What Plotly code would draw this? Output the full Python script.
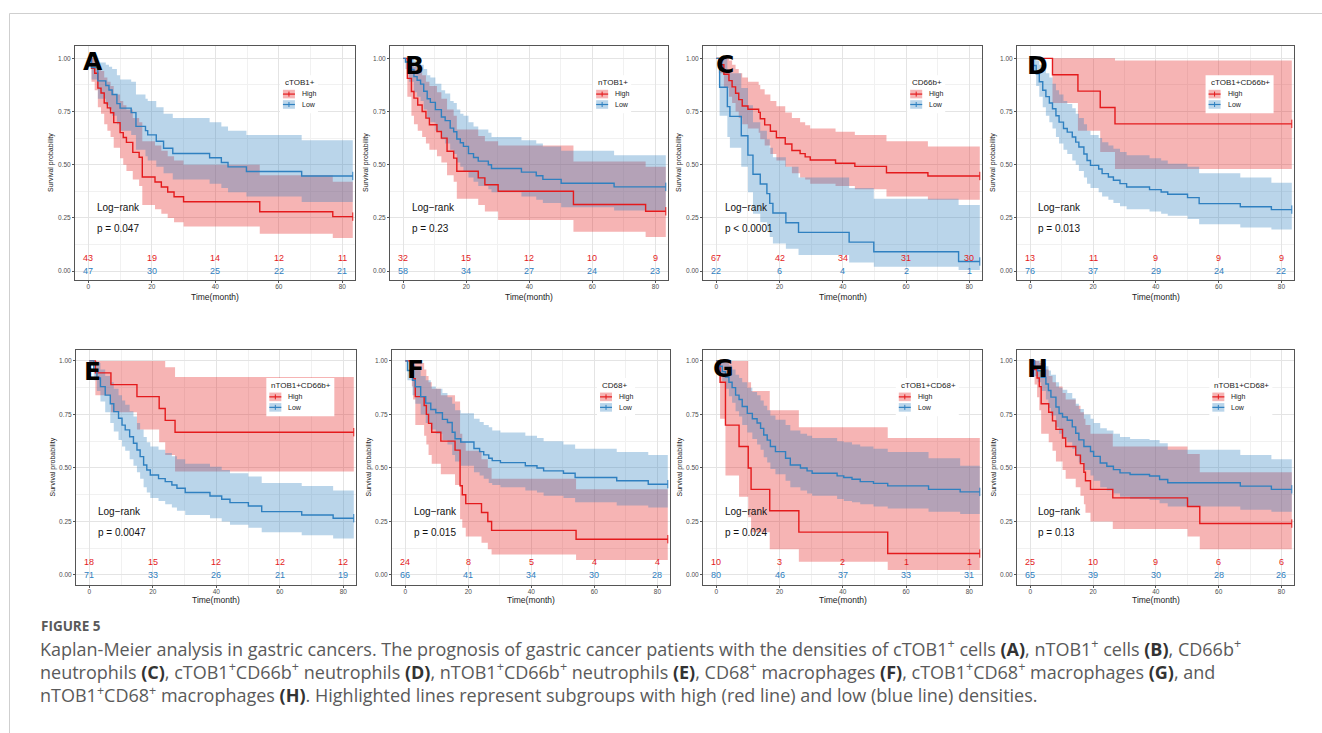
import plotly.graph_objects as go

W, H = 1322, 733

# ------------------------------------------------------------------ data
LETTERS = ["A", "B", "C", "D", "E", "F", "G", "H"]
LEGEND_TITLES = ["cTOB1+", "nTOB1+", "CD66b+", "cTOB1+CD66b+",
                 "nTOB1+CD66b+", "CD68+", "cTOB1+CD68+", "nTOB1+CD68+"]
P_TEXT = ["p = 0.047", "p = 0.23", "p < 0.0001", "p = 0.013",
          "p = 0.0047", "p = 0.015", "p = 0.024", "p = 0.13"]
GROUPS = ["High", "Low"]
RISK_TIMES = [0, 20, 40, 60, 80]
RISK_HIGH = [[43, 19, 14, 12, 11], [32, 15, 12, 10, 9], [67, 42, 34, 31, 30], [13, 11, 9, 9, 9],
             [18, 15, 12, 12, 12], [24, 8, 5, 4, 4], [10, 3, 2, 1, 1], [25, 10, 9, 6, 6]]
RISK_LOW = [[47, 30, 25, 22, 21], [58, 34, 27, 24, 23], [22, 6, 4, 2, 1], [76, 37, 29, 24, 22],
            [71, 33, 26, 21, 19], [66, 41, 34, 30, 28], [80, 46, 37, 33, 31], [65, 39, 30, 28, 26]]
END_T = 83.3
X_TICKS = [0, 20, 40, 60, 80]
Y_TICKS = [0, 0.25, 0.5, 0.75, 1.0]

# Panel A
A_HIGH_T = [0, 1, 2, 3, 4, 5, 6, 7, 8, 10, 11, 12, 14, 16, 17, 21, 23, 25, 27, 30, 54, 77]
A_HIGH_S = [1.0, 0.953, 0.93, 0.86, 0.837, 0.79, 0.767, 0.744, 0.698, 0.651, 0.628, 0.605, 0.558, 0.535, 0.442, 0.419, 0.395, 0.372, 0.349, 0.326, 0.279, 0.256]
A_HIGH_HI = [1.0, 1.0, 0.99, 0.96, 0.94, 0.91, 0.89, 0.87, 0.83, 0.80, 0.78, 0.76, 0.72, 0.70, 0.61, 0.59, 0.565, 0.54, 0.52, 0.50, 0.45, 0.42]
A_HIGH_LO = [1.0, 0.89, 0.85, 0.77, 0.74, 0.69, 0.66, 0.63, 0.58, 0.53, 0.50, 0.47, 0.43, 0.40, 0.31, 0.29, 0.27, 0.25, 0.23, 0.21, 0.175, 0.155]
A_LOW_T = [0, 1, 3, 5.5, 6.5, 7.5, 9, 10, 13.5, 15, 18, 18.7, 21.4, 23.7, 26.6, 38.2, 41.9, 44, 49.8, 67.2]
A_LOW_S = [1.0, 0.957, 0.894, 0.872, 0.851, 0.83, 0.787, 0.766, 0.745, 0.68, 0.66, 0.64, 0.61, 0.577, 0.553, 0.533, 0.51, 0.49, 0.468, 0.447]
A_LOW_HI = [1.0, 1.0, 0.98, 0.97, 0.96, 0.95, 0.92, 0.90, 0.89, 0.83, 0.81, 0.80, 0.77, 0.74, 0.72, 0.70, 0.68, 0.66, 0.64, 0.615]
A_LOW_LO = [1.0, 0.90, 0.81, 0.78, 0.76, 0.73, 0.69, 0.66, 0.64, 0.57, 0.54, 0.52, 0.49, 0.46, 0.43, 0.41, 0.39, 0.37, 0.35, 0.325]

# Panel B
B_HIGH_T = [0, 1.3, 2.6, 3.4, 4.6, 6.0, 7.2, 8.3, 10.7, 12.1, 13.9, 16.0, 17.0, 23.8, 25.9, 30.1, 54.0, 76.9]
B_HIGH_S = [1.0, 0.906, 0.844, 0.813, 0.781, 0.75, 0.719, 0.688, 0.656, 0.625, 0.563, 0.531, 0.469, 0.438, 0.406, 0.375, 0.313, 0.281]
B_HIGH_HI = [1.0, 1.0, 0.98, 0.96, 0.94, 0.92, 0.89, 0.87, 0.84, 0.81, 0.76, 0.73, 0.665, 0.635, 0.61, 0.59, 0.515, 0.49]
B_HIGH_LO = [1.0, 0.82, 0.73, 0.69, 0.66, 0.63, 0.60, 0.57, 0.54, 0.51, 0.45, 0.42, 0.34, 0.31, 0.28, 0.24, 0.185, 0.16]
B_LOW_T = [0, 0.7, 1.8, 3.4, 4.4, 5.5, 6.5, 7.6, 8.6, 10.2, 12.1, 13.3, 14.9, 16, 17, 18.1, 19.1, 20.7, 22.3, 23.8, 27, 28, 37.5, 42.2, 44.3, 50.1, 66.9]
B_LOW_S = [1.0, 0.983, 0.948, 0.914, 0.897, 0.879, 0.845, 0.81, 0.793, 0.759, 0.724, 0.707, 0.672, 0.655, 0.621, 0.603, 0.586, 0.552, 0.534, 0.517, 0.5, 0.482, 0.465, 0.448, 0.431, 0.413, 0.396]
B_LOW_HI = [1.0, 1.0, 1.0, 0.99, 0.98, 0.97, 0.95, 0.92, 0.91, 0.88, 0.85, 0.835, 0.80, 0.79, 0.76, 0.74, 0.73, 0.70, 0.68, 0.665, 0.65, 0.63, 0.615, 0.60, 0.585, 0.565, 0.545]
B_LOW_LO = [1.0, 0.95, 0.89, 0.84, 0.82, 0.80, 0.76, 0.72, 0.70, 0.66, 0.62, 0.60, 0.57, 0.55, 0.51, 0.49, 0.47, 0.44, 0.42, 0.40, 0.385, 0.37, 0.35, 0.335, 0.32, 0.30, 0.285]

# Panel C
C_HIGH_T = [0, 0.8, 2.4, 4, 5, 6.1, 7.1, 8.2, 10, 13.4, 13.9, 15.3, 17.1, 19, 21.8, 23.9, 26.5, 28.1, 29.7, 37.7, 43.8, 53.8, 66.9]
C_HIGH_S = [1.0, 0.97, 0.925, 0.895, 0.866, 0.836, 0.806, 0.776, 0.761, 0.746, 0.716, 0.687, 0.657, 0.627, 0.597, 0.567, 0.552, 0.537, 0.522, 0.507, 0.492, 0.462, 0.447]
C_HIGH_HI = [1.0, 1.0, 1.0, 0.99, 0.97, 0.95, 0.93, 0.91, 0.89, 0.875, 0.855, 0.83, 0.80, 0.775, 0.745, 0.72, 0.70, 0.685, 0.67, 0.655, 0.64, 0.61, 0.585]
C_HIGH_LO = [1.0, 0.93, 0.86, 0.82, 0.79, 0.75, 0.72, 0.69, 0.67, 0.65, 0.62, 0.59, 0.55, 0.52, 0.49, 0.46, 0.44, 0.43, 0.41, 0.40, 0.385, 0.35, 0.335]
C_LOW_T = [0, 1.05, 3.5, 4.3, 7.9, 10, 11.6, 13.9, 16, 16.9, 17.9, 22, 26, 42, 49.8, 76.6]
C_LOW_S = [1.0, 0.864, 0.773, 0.727, 0.636, 0.545, 0.455, 0.409, 0.364, 0.318, 0.273, 0.227, 0.182, 0.136, 0.091, 0.045]
C_LOW_HI = [1.0, 1.0, 0.95, 0.93, 0.86, 0.78, 0.70, 0.66, 0.62, 0.58, 0.535, 0.49, 0.44, 0.39, 0.34, 0.31]
C_LOW_LO = [1.0, 0.73, 0.63, 0.58, 0.49, 0.37, 0.27, 0.23, 0.19, 0.16, 0.13, 0.105, 0.075, 0.04, 0.02, 0.005]

# Panel D
D_HIGH_T = [0, 7.1, 15.2, 22.3, 27]
D_HIGH_S = [1.0, 0.923, 0.846, 0.769, 0.692]
D_HIGH_HI = [1.0, 1.0, 1.0, 1.0, 0.99]
D_HIGH_LO = [1.0, 0.79, 0.66, 0.56, 0.48]
D_LOW_T = [0, 0.84, 1.9, 2.9, 4, 5, 6.1, 7.1, 8.2, 9.2, 10.6, 11.8, 13.4, 14.5, 15.5, 17.1, 18.1, 19.2, 21.8, 22.9, 24.9, 26.5, 28.6, 30.7, 38, 41.7, 43.8, 50.1, 53.8, 66.9, 76.8]
D_LOW_S = [1.0, 0.966, 0.927, 0.89, 0.85, 0.82, 0.79, 0.763, 0.73, 0.70, 0.67, 0.653, 0.63, 0.606, 0.583, 0.55, 0.52, 0.497, 0.48, 0.458, 0.442, 0.427, 0.411, 0.395, 0.383, 0.372, 0.361, 0.345, 0.317, 0.302, 0.289]
D_LOW_HI = [1.0, 1.0, 0.99, 0.97, 0.95, 0.93, 0.91, 0.88, 0.85, 0.83, 0.80, 0.785, 0.765, 0.74, 0.72, 0.69, 0.66, 0.64, 0.625, 0.605, 0.59, 0.575, 0.56, 0.545, 0.53, 0.52, 0.505, 0.49, 0.46, 0.44, 0.415]
D_LOW_LO = [1.0, 0.93, 0.87, 0.82, 0.77, 0.73, 0.70, 0.67, 0.63, 0.60, 0.57, 0.55, 0.52, 0.50, 0.47, 0.44, 0.41, 0.39, 0.37, 0.35, 0.335, 0.32, 0.305, 0.29, 0.28, 0.27, 0.26, 0.245, 0.22, 0.205, 0.195]

# Panel E
E_HIGH_T = [0, 1.9, 6.8, 15, 22, 23.9, 27]
E_HIGH_S = [1.0, 0.944, 0.889, 0.833, 0.778, 0.722, 0.667]
E_HIGH_HI = [1.0, 1.0, 1.0, 1.0, 1.0, 0.97, 0.925]
E_HIGH_LO = [1.0, 0.84, 0.76, 0.68, 0.62, 0.56, 0.483]
E_LOW_T = [0, 1.4, 2.4, 3.5, 5, 6.6, 7.7, 9.2, 10.3, 11.3, 12.7, 13.9, 15, 16, 17.1, 18.1, 19.2, 21.8, 23.9, 26, 27.6, 30.2, 38, 41.7, 44.3, 50.1, 54.3, 66.9, 76.8]
E_LOW_S = [1.0, 0.958, 0.92, 0.88, 0.84, 0.80, 0.763, 0.732, 0.70, 0.678, 0.646, 0.615, 0.584, 0.553, 0.514, 0.49, 0.467, 0.45, 0.436, 0.42, 0.405, 0.385, 0.369, 0.354, 0.338, 0.322, 0.296, 0.28, 0.265]
E_LOW_HI = [1.0, 1.0, 0.99, 0.96, 0.93, 0.90, 0.87, 0.84, 0.815, 0.795, 0.765, 0.74, 0.71, 0.68, 0.645, 0.62, 0.60, 0.585, 0.57, 0.555, 0.54, 0.52, 0.505, 0.49, 0.475, 0.46, 0.43, 0.415, 0.395]
E_LOW_LO = [1.0, 0.91, 0.86, 0.81, 0.76, 0.71, 0.67, 0.63, 0.60, 0.58, 0.54, 0.51, 0.48, 0.45, 0.41, 0.385, 0.36, 0.345, 0.33, 0.315, 0.30, 0.28, 0.265, 0.25, 0.235, 0.22, 0.20, 0.185, 0.17]

# Panel F
F_HIGH_T = [0, 2.1, 2.5, 3.2, 6, 6.7, 7.4, 8.4, 11.3, 15.8, 17.4, 18.1, 19.2, 24.2, 26.2, 27.4, 54.2]
F_HIGH_S = [1.0, 0.958, 0.917, 0.833, 0.792, 0.75, 0.708, 0.667, 0.625, 0.583, 0.417, 0.375, 0.333, 0.292, 0.25, 0.208, 0.167]
F_HIGH_HI = [1.0, 1.0, 1.0, 0.99, 0.96, 0.93, 0.90, 0.87, 0.84, 0.81, 0.66, 0.62, 0.58, 0.54, 0.50, 0.45, 0.40]
F_HIGH_LO = [1.0, 0.88, 0.82, 0.70, 0.65, 0.61, 0.56, 0.52, 0.47, 0.42, 0.26, 0.22, 0.18, 0.15, 0.12, 0.095, 0.07]
F_LOW_T = [0, 0.7, 2.3, 3.2, 4.9, 6.5, 8.1, 9.7, 11.8, 13.4, 14.9, 15.8, 17.6, 21.8, 23.6, 24.9, 26.5, 27.6, 30.2, 38.1, 41.8, 43.9, 50.2, 53.9, 67.1, 77.1]
F_LOW_S = [1.0, 0.955, 0.91, 0.879, 0.833, 0.803, 0.773, 0.758, 0.727, 0.712, 0.667, 0.636, 0.621, 0.591, 0.576, 0.561, 0.545, 0.534, 0.525, 0.51, 0.50, 0.486, 0.475, 0.455, 0.44, 0.424]
F_LOW_HI = [1.0, 1.0, 0.98, 0.96, 0.93, 0.91, 0.88, 0.87, 0.85, 0.83, 0.80, 0.77, 0.755, 0.73, 0.715, 0.70, 0.69, 0.675, 0.665, 0.65, 0.64, 0.625, 0.61, 0.59, 0.575, 0.56]
F_LOW_LO = [1.0, 0.91, 0.84, 0.80, 0.75, 0.71, 0.68, 0.66, 0.63, 0.61, 0.56, 0.53, 0.51, 0.48, 0.465, 0.45, 0.43, 0.42, 0.41, 0.395, 0.385, 0.37, 0.36, 0.34, 0.325, 0.315]

# Panel G
G_HIGH_T = [0, 1.2, 2.9, 7.2, 10.1, 11, 16.9, 26.1, 54.2]
G_HIGH_S = [1.0, 0.9, 0.7, 0.6, 0.5, 0.4, 0.3, 0.2, 0.1]
G_HIGH_HI = [1.0, 1.0, 1.0, 1.0, 0.9, 0.86, 0.77, 0.69, 0.64]
G_HIGH_LO = [1.0, 0.73, 0.465, 0.365, 0.27, 0.2, 0.12, 0.062, 0.023]
G_LOW_T = [0, 0.8, 1.9, 2.9, 4, 5, 6.1, 7.2, 8.2, 9.8, 11.4, 12.9, 14, 15, 16.1, 17.1, 18.7, 21.9, 23.4, 26.6, 28.7, 30.3, 38.2, 40.3, 42.9, 45.5, 49.7, 54.2, 67.1, 77.1]
G_LOW_S = [1.0, 0.975, 0.95, 0.925, 0.9, 0.875, 0.84, 0.82, 0.787, 0.755, 0.73, 0.71, 0.685, 0.654, 0.63, 0.60, 0.576, 0.545, 0.514, 0.50, 0.486, 0.475, 0.463, 0.455, 0.447, 0.436, 0.428, 0.416, 0.40, 0.388]
G_LOW_HI = [1.0, 1.0, 1.0, 0.99, 0.98, 0.96, 0.935, 0.92, 0.90, 0.875, 0.855, 0.84, 0.815, 0.79, 0.77, 0.745, 0.725, 0.70, 0.675, 0.66, 0.65, 0.64, 0.625, 0.62, 0.61, 0.60, 0.59, 0.575, 0.545, 0.51]
G_LOW_LO = [1.0, 0.94, 0.905, 0.87, 0.835, 0.805, 0.765, 0.74, 0.70, 0.665, 0.635, 0.61, 0.585, 0.55, 0.525, 0.495, 0.47, 0.44, 0.41, 0.395, 0.38, 0.37, 0.355, 0.345, 0.34, 0.33, 0.32, 0.31, 0.295, 0.285]

# Panel H
H_HIGH_T = [0, 1.4, 2.2, 2.9, 3.5, 5.9, 7.1, 8.2, 10.3, 11.3, 14.5, 16, 17.1, 17.6, 19.2, 26.3, 50.1, 54]
H_HIGH_S = [1.0, 0.96, 0.92, 0.88, 0.80, 0.76, 0.72, 0.68, 0.64, 0.60, 0.56, 0.52, 0.48, 0.44, 0.40, 0.36, 0.32, 0.24]
H_HIGH_HI = [1.0, 1.0, 1.0, 0.99, 0.96, 0.93, 0.90, 0.88, 0.85, 0.82, 0.79, 0.76, 0.73, 0.70, 0.66, 0.60, 0.565, 0.48]
H_HIGH_LO = [1.0, 0.89, 0.83, 0.77, 0.66, 0.62, 0.58, 0.53, 0.49, 0.45, 0.41, 0.37, 0.33, 0.29, 0.25, 0.215, 0.18, 0.12]
H_LOW_T = [0, 1.4, 2.4, 3.5, 5, 5.8, 6.6, 8.2, 9.2, 10.3, 11.8, 13.4, 14.5, 15.5, 17.1, 19.2, 20.2, 22.3, 24.4, 26.5, 28.6, 31.8, 38, 41.2, 43.8, 66.9, 76.8]
H_LOW_S = [1.0, 0.969, 0.954, 0.923, 0.892, 0.862, 0.831, 0.785, 0.754, 0.738, 0.723, 0.692, 0.662, 0.631, 0.6, 0.577, 0.554, 0.523, 0.508, 0.492, 0.477, 0.469, 0.462, 0.446, 0.431, 0.415, 0.4]
H_LOW_HI = [1.0, 1.0, 1.0, 0.99, 0.975, 0.955, 0.935, 0.90, 0.875, 0.865, 0.85, 0.825, 0.80, 0.775, 0.75, 0.73, 0.71, 0.685, 0.675, 0.66, 0.645, 0.635, 0.63, 0.615, 0.585, 0.56, 0.54]
H_LOW_LO = [1.0, 0.93, 0.90, 0.86, 0.82, 0.78, 0.745, 0.69, 0.66, 0.64, 0.62, 0.59, 0.555, 0.525, 0.49, 0.465, 0.44, 0.41, 0.395, 0.38, 0.365, 0.355, 0.35, 0.335, 0.32, 0.305, 0.295]

CURVES = {
    "A": [(A_HIGH_T, A_HIGH_S, A_HIGH_LO, A_HIGH_HI), (A_LOW_T, A_LOW_S, A_LOW_LO, A_LOW_HI)],
    "B": [(B_HIGH_T, B_HIGH_S, B_HIGH_LO, B_HIGH_HI), (B_LOW_T, B_LOW_S, B_LOW_LO, B_LOW_HI)],
    "C": [(C_HIGH_T, C_HIGH_S, C_HIGH_LO, C_HIGH_HI), (C_LOW_T, C_LOW_S, C_LOW_LO, C_LOW_HI)],
    "D": [(D_HIGH_T, D_HIGH_S, D_HIGH_LO, D_HIGH_HI), (D_LOW_T, D_LOW_S, D_LOW_LO, D_LOW_HI)],
    "E": [(E_HIGH_T, E_HIGH_S, E_HIGH_LO, E_HIGH_HI), (E_LOW_T, E_LOW_S, E_LOW_LO, E_LOW_HI)],
    "F": [(F_HIGH_T, F_HIGH_S, F_HIGH_LO, F_HIGH_HI), (F_LOW_T, F_LOW_S, F_LOW_LO, F_LOW_HI)],
    "G": [(G_HIGH_T, G_HIGH_S, G_HIGH_LO, G_HIGH_HI), (G_LOW_T, G_LOW_S, G_LOW_LO, G_LOW_HI)],
    "H": [(H_HIGH_T, H_HIGH_S, H_HIGH_LO, H_HIGH_HI), (H_LOW_T, H_LOW_S, H_LOW_LO, H_LOW_HI)],
}

CAPTION_HEAD = "FIGURE 5"
CAPTION_LINES = [
    "Kaplan-Meier analysis in gastric cancers. The prognosis of gastric cancer patients with the densities of "
    "cTOB1<sup>+</sup> cells <b>(A)</b>, nTOB1<sup>+</sup> cells <b>(B)</b>, CD66b<sup>+</sup>",
    "neutrophils <b>(C)</b>, cTOB1<sup>+</sup>CD66b<sup>+</sup> neutrophils <b>(D)</b>, nTOB1<sup>+</sup>CD66b<sup>+</sup> "
    "neutrophils <b>(E)</b>, CD68<sup>+</sup> macrophages <b>(F)</b>, cTOB1<sup>+</sup>CD68<sup>+</sup> macrophages <b>(G)</b>, and",
    "nTOB1<sup>+</sup>CD68<sup>+</sup> macrophages <b>(H)</b>. Highlighted lines represent subgroups with high "
    "(red line) and low (blue line) densities.",
]

# ------------------------------------------------------------------ layout constants
PANEL_BOX = [(75, 355, 46, 280), (390, 668, 46, 280), (703, 982, 46, 280), (1017, 1294, 46, 280),
             (76, 356, 350, 585), (392, 670, 350, 585), (703, 982, 350, 585), (1017, 1294, 350, 585)]
Y_RANGE_ROW = [[-0.042, 1.058], [-0.047, 1.051]]
X_RANGE = [-4.2, 84.0]
LETTER_PX = [(93, 61), (414, 66), (725, 65), (1037, 66), (93, 371), (415, 369), (723, 368), (1037, 368)]
LEGEND_LEFT = [61.3, 61.2, 61.3, 56.8, 56.7, 61.8, 57.7, 58.0]
XTITLE_Y = [297, 599.5]

LINE_COL = ["#E41A1C", "#2F80C0"]
FILL_COL = ["rgba(228,26,28,0.33)", "rgba(47,128,192,0.33)"]
TXT = "Liberation Sans, Arial, sans-serif"

fig = go.Figure()
shapes = []
ann = []


def xp(px):
    return px / W


def yp(py):
    return 1 - py / H


for i, L in enumerate(LETTERS):
    k = i + 1
    xs = "x" if k == 1 else f"x{k}"
    ys = "y" if k == 1 else f"y{k}"
    x0, x1, y0, y1 = PANEL_BOX[i]
    row = 0 if i < 4 else 1
    yr = Y_RANGE_ROW[row]
    mx = (x1 - x0) / (X_RANGE[1] - X_RANGE[0])
    my = (y1 - y0) / (yr[1] - yr[0])

    axx = dict(domain=[xp(x0), xp(x1)], range=X_RANGE, anchor=ys, tickvals=X_TICKS,
               ticks="outside", ticklen=2, tickwidth=1, tickcolor="#555", ticklabelstandoff=-2,
               showline=True, mirror=True, linecolor="#555", linewidth=1,
               showgrid=True, gridcolor="#e4e4e4", gridwidth=1.1, zeroline=False,
               minor=dict(tickvals=[10, 30, 50, 70], showgrid=True, gridcolor="#f1f1f1", gridwidth=0.7, ticks=""),
               tickfont=dict(family=TXT, size=6.5, color="#4d4d4d"), fixedrange=True)
    axy = dict(domain=[yp(y1), yp(y0)], range=yr, anchor=xs, tickvals=Y_TICKS, tickformat=".2f",
               ticks="outside", ticklen=2, tickwidth=1, tickcolor="#555",
               showline=True, mirror=True, linecolor="#555", linewidth=1,
               showgrid=True, gridcolor="#e4e4e4", gridwidth=1.1, zeroline=False,
               minor=dict(tickvals=[0.125, 0.375, 0.625, 0.875], showgrid=True, gridcolor="#f1f1f1", gridwidth=0.7, ticks=""),
               tickfont=dict(family=TXT, size=6.5, color="#4d4d4d"), fixedrange=True)
    fig.update_layout({("xaxis" if k == 1 else f"xaxis{k}"): axx, ("yaxis" if k == 1 else f"yaxis{k}"): axy})

    curves = CURVES[L]
    # confidence bands (High first, Low on top)
    for g, (t, s, lo, hi) in enumerate(curves):
        tx = list(t) + [END_T]
        fig.add_trace(go.Scatter(x=tx, y=list(hi) + [hi[-1]], mode="lines", line=dict(width=0, shape="hv"),
                                 xaxis=xs, yaxis=ys, showlegend=False, hoverinfo="skip"))
        fig.add_trace(go.Scatter(x=tx, y=list(lo) + [lo[-1]], mode="lines", line=dict(width=0, shape="hv"),
                                 fill="tonexty", fillcolor=FILL_COL[g],
                                 xaxis=xs, yaxis=ys, showlegend=False, hoverinfo="skip"))
    # survival curves
    for g, (t, s, lo, hi) in enumerate(curves):
        tx = list(t) + [END_T]
        fig.add_trace(go.Scatter(x=tx, y=list(s) + [s[-1]], mode="lines",
                                 line=dict(color=LINE_COL[g], width=1.4, shape="hv"),
                                 xaxis=xs, yaxis=ys, showlegend=False, name=GROUPS[g]))
        fig.add_trace(go.Scatter(x=[END_T], y=[s[-1]], mode="markers",
                                 marker=dict(symbol="line-ns", size=6, line=dict(color=LINE_COL[g], width=1)),
                                 xaxis=xs, yaxis=ys, showlegend=False, hoverinfo="skip"))

    # number at risk
    for g, nums in enumerate([RISK_HIGH[i], RISK_LOW[i]]):
        yv = 0.06 if g == 0 else 0.0
        for tt, n in zip(RISK_TIMES, nums):
            ann.append(dict(x=tt, y=yv, xref=xs, yref=ys, text=str(n), showarrow=False,
                            xanchor="center", yanchor="middle",
                            font=dict(family=TXT, size=9, color=LINE_COL[g])))

    # log-rank text
    ann.append(dict(x=2.0, y=0.297, xref=xs, yref=ys, text="Log\u2212rank", showarrow=False,
                    xanchor="left", yanchor="middle", font=dict(family=TXT, size=10, color="#111")))
    ann.append(dict(x=2.0, y=0.198, xref=xs, yref=ys, text=P_TEXT[i], showarrow=False,
                    xanchor="left", yanchor="middle", font=dict(family=TXT, size=10, color="#111")))

    # legend (drawn inside panel)
    lx = LEGEND_LEFT[i]
    title = LEGEND_TITLES[i]
    bgw = max(5.0 * len(title), 30) + 5
    shapes.append(dict(type="rect", xref=xs, yref=ys, x0=lx - 3 / mx, x1=lx + bgw / mx, y0=0.742, y1=0.92,
                       fillcolor="white", line=dict(width=0), layer="above"))
    ann.append(dict(x=lx, y=0.885, xref=xs, yref=ys, text=title, showarrow=False, xanchor="left",
                    yanchor="middle", font=dict(family=TXT, size=8, color="#222")))
    for g, yc in enumerate([0.832, 0.783]):
        kx0, kx1 = lx, lx + 12 / mx
        shapes.append(dict(type="rect", xref=xs, yref=ys, x0=kx0, x1=kx1, y0=yc - 4.3 / my, y1=yc + 4.3 / my,
                           fillcolor=FILL_COL[g], line=dict(width=0), layer="above"))
        shapes.append(dict(type="line", xref=xs, yref=ys, x0=kx0, x1=kx1, y0=yc, y1=yc,
                           line=dict(color=LINE_COL[g], width=1.2), layer="above"))
        shapes.append(dict(type="line", xref=xs, yref=ys, x0=(kx0 + kx1) / 2, x1=(kx0 + kx1) / 2,
                           y0=yc - 2.5 / my, y1=yc + 2.5 / my,
                           line=dict(color=LINE_COL[g], width=1), layer="above"))
        ann.append(dict(x=lx + 17 / mx, y=yc, xref=xs, yref=ys, text=GROUPS[g], showarrow=False,
                        xanchor="left", yanchor="middle", font=dict(family=TXT, size=7, color="#222")))

    # axis titles
    ann.append(dict(x=xp(x0 - 24), y=yp((y0 + y1) / 2), xref="paper", yref="paper", text="Survival probability",
                    textangle=-90, showarrow=False, xanchor="center", yanchor="middle",
                    font=dict(family=TXT, size=7, color="#222")))
    ann.append(dict(x=xp((x0 + x1) / 2), y=yp(XTITLE_Y[row]), xref="paper", yref="paper", text="Time(month)",
                    showarrow=False, xanchor="center", yanchor="middle",
                    font=dict(family=TXT, size=8.5, color="#222")))

    # panel letter
    lpx, lpy = LETTER_PX[i]
    ann.append(dict(x=xp(lpx), y=yp(lpy), xref="paper", yref="paper", text=f"<b>{L}</b>",
                    showarrow=False, xanchor="center", yanchor="middle",
                    font=dict(family="DejaVu Sans, Liberation Sans, sans-serif", size=25, color="#000")))

# frame lines
shapes.append(dict(type="line", xref="paper", yref="paper", x0=xp(9.5), x1=1.0, y0=yp(13.5), y1=yp(13.5),
                   line=dict(color="#cfcfcf", width=1)))
shapes.append(dict(type="line", xref="paper", yref="paper", x0=xp(9.5), x1=xp(9.5), y0=yp(13.5), y1=0,
                   line=dict(color="#cfcfcf", width=1)))

# caption
CAP = "Open Sans, Noto Sans, sans-serif"
CAP_SIZE = 18.0
ann.append(dict(x=xp(40), y=yp(636), xref="paper", yref="paper", text=f"<b>{CAPTION_HEAD}</b>", showarrow=False,
                xanchor="left", yanchor="bottom", borderpad=0, font=dict(family=CAP, size=13.5, color="#5a5a5a")))
cap_text = "<br>".join(CAPTION_LINES).replace("<b>", "<b><span style='color:#333'>").replace("</b>", "</span></b>")
ann.append(dict(x=xp(39), y=yp(671), xref="paper", yref="paper", text=cap_text, showarrow=False, align="left",
                xanchor="left", yanchor="middle", borderpad=0, font=dict(family=CAP, size=CAP_SIZE, color="#5a5a5a")))

fig.update_layout(width=W, height=H, margin=dict(l=0, r=0, t=0, b=0), paper_bgcolor="white",
                  plot_bgcolor="white", showlegend=False, shapes=shapes, annotations=ann)

fig.write_html("out.html")
